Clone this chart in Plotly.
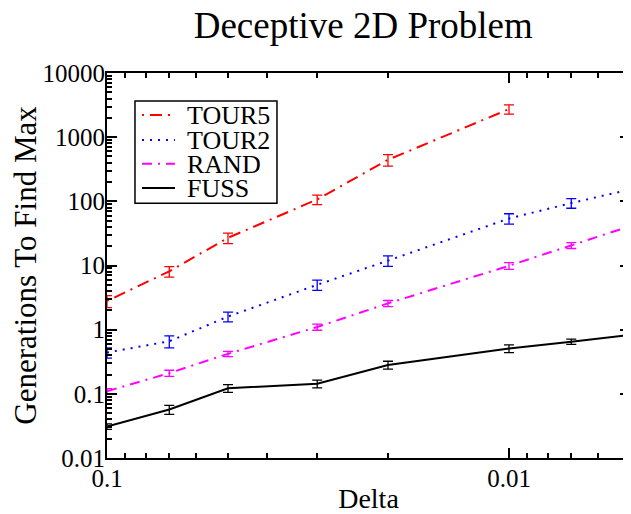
import plotly.graph_objects as go

delta = [0.1, 0.07, 0.05, 0.03, 0.02, 0.01, 0.007, 0.005]
tour5 = [2.8, 8.1, 27, 107, 444, 2740]
tour5_err = [0.6, 1.5, 5, 18, 90, 450]
tour2 = [0.44, 0.66, 1.6, 5.0, 11.9, 54, 94, 153]
tour2_err = [0.08, 0.14, 0.28, 0.9, 2.2, 10, 16, 28]
rand = [0.11, 0.21, 0.42, 1.1, 2.57, 9.9, 20.6, 41]
rand_err = [0.01, 0.023, 0.04, 0.12, 0.28, 1.2, 2.2, 4]
fuss = [0.031, 0.057, 0.122, 0.144, 0.282, 0.51, 0.65, 0.83]
fuss_err = [0.003, 0.009, 0.017, 0.02, 0.04, 0.07, 0.06, 0.1]

names = ["TOUR5", "TOUR2", "RAND", "FUSS"]
colors = ["#ff0000", "#0000ff", "#ff00ff", "#000000"]
dashes = ["2px,6px,12px,6px", "2px,6px", "10px,6px,2px,6px", "solid"]

y_tickvals = [0.01, 0.1, 1, 10, 100, 1000, 10000]
y_ticktext = ["0.01", "0.1", "1", "10", "100", "1000", "10000"]
x_tickvals = [0.1, 0.01]
x_ticktext = ["0.1", "0.01"]

FONT = "Liberation Serif, Times New Roman, serif"

fig = go.Figure()
series = [(tour5, tour5_err), (tour2, tour2_err), (rand, rand_err), (fuss, fuss_err)]
for (vals, errs), name, col, dash in zip(series, names, colors, dashes):
    fig.add_trace(go.Scatter(
        x=delta[:len(vals)], y=vals, mode="lines", name=name,
        line=dict(color=col, width=2, dash=dash),
        error_y=dict(type="data", array=errs, visible=True, color=col,
                     thickness=1.3, width=5),
        showlegend=False,
    ))

# compact legend (box, line samples, labels) in the upper left of the plot
lx0, lx1, tx = 0.0669, 0.130, 0.1505
ly = [0.891, 0.826, 0.764, 0.701]
fig.add_shape(type="rect", xref="paper", yref="paper", x0=0.0535, x1=0.325,
              y0=0.662, y1=0.927, line=dict(color="black", width=1.5),
              fillcolor="white", layer="above")
for name, col, dash, yy in zip(names, colors, dashes, ly):
    fig.add_shape(type="line", xref="paper", yref="paper", x0=lx0, x1=lx1,
                  y0=yy, y1=yy, line=dict(color=col, width=2, dash=dash),
                  layer="above")
    fig.add_annotation(xref="paper", yref="paper", x=tx, y=yy, text=name,
                       showarrow=False, xanchor="left", yanchor="middle",
                       height=24, borderpad=0,
                       font=dict(family=FONT, size=26, color="black"))

axis_common = dict(
    showline=True, linecolor="black", linewidth=2, mirror="allticks",
    ticks="inside", ticklen=10, tickwidth=1.5, tickcolor="black",
    showgrid=False, zeroline=False,
    tickfont=dict(family=FONT, size=25, color="black"),
)

fig.update_xaxes(
    type="log", range=[-1, -2.3010], tickmode="array",
    tickvals=x_tickvals, ticktext=x_ticktext,
    minor=dict(ticks="inside", ticklen=5, tickwidth=1.5, tickcolor="black",
               tickmode="array",
               tickvals=[0.09, 0.08, 0.07, 0.06, 0.05, 0.04, 0.03, 0.02,
                         0.009, 0.008, 0.007, 0.006], showgrid=False),
    title=dict(text="Delta", font=dict(family=FONT, size=28, color="black"),
               standoff=10),
    ticklabelstandoff=-3,
    automargin=False,
    **axis_common,
)
ymin = []
for d in [0.01, 0.1, 1, 10, 100, 1000]:
    for k in range(2, 10):
        ymin.append(d * k)
fig.update_yaxes(
    type="log", range=[-2, 4], tickmode="array",
    tickvals=y_tickvals, ticktext=y_ticktext,
    minor=dict(ticks="inside", ticklen=5, tickwidth=1.5, tickcolor="black",
               tickmode="array", tickvals=ymin, showgrid=False),
    title=dict(text="Generations To Find Max",
               font=dict(family=FONT, size=31, color="black"), standoff=0),
    ticklabelstandoff=-5,
    automargin=False,
    **axis_common,
)

fig.update_layout(
    width=623, height=506,
    margin=dict(l=99, r=1, t=65, b=56),
    paper_bgcolor="white", plot_bgcolor="white",
    title=dict(text="Deceptive 2D Problem", x=0.49, xref="paper", xanchor="center",
               y=1 - 17 / 506, yref="container", yanchor="middle",
               font=dict(family=FONT, size=37, color="black")),
    font=dict(family=FONT, color="black"),
)

fig.write_html("out.html")
